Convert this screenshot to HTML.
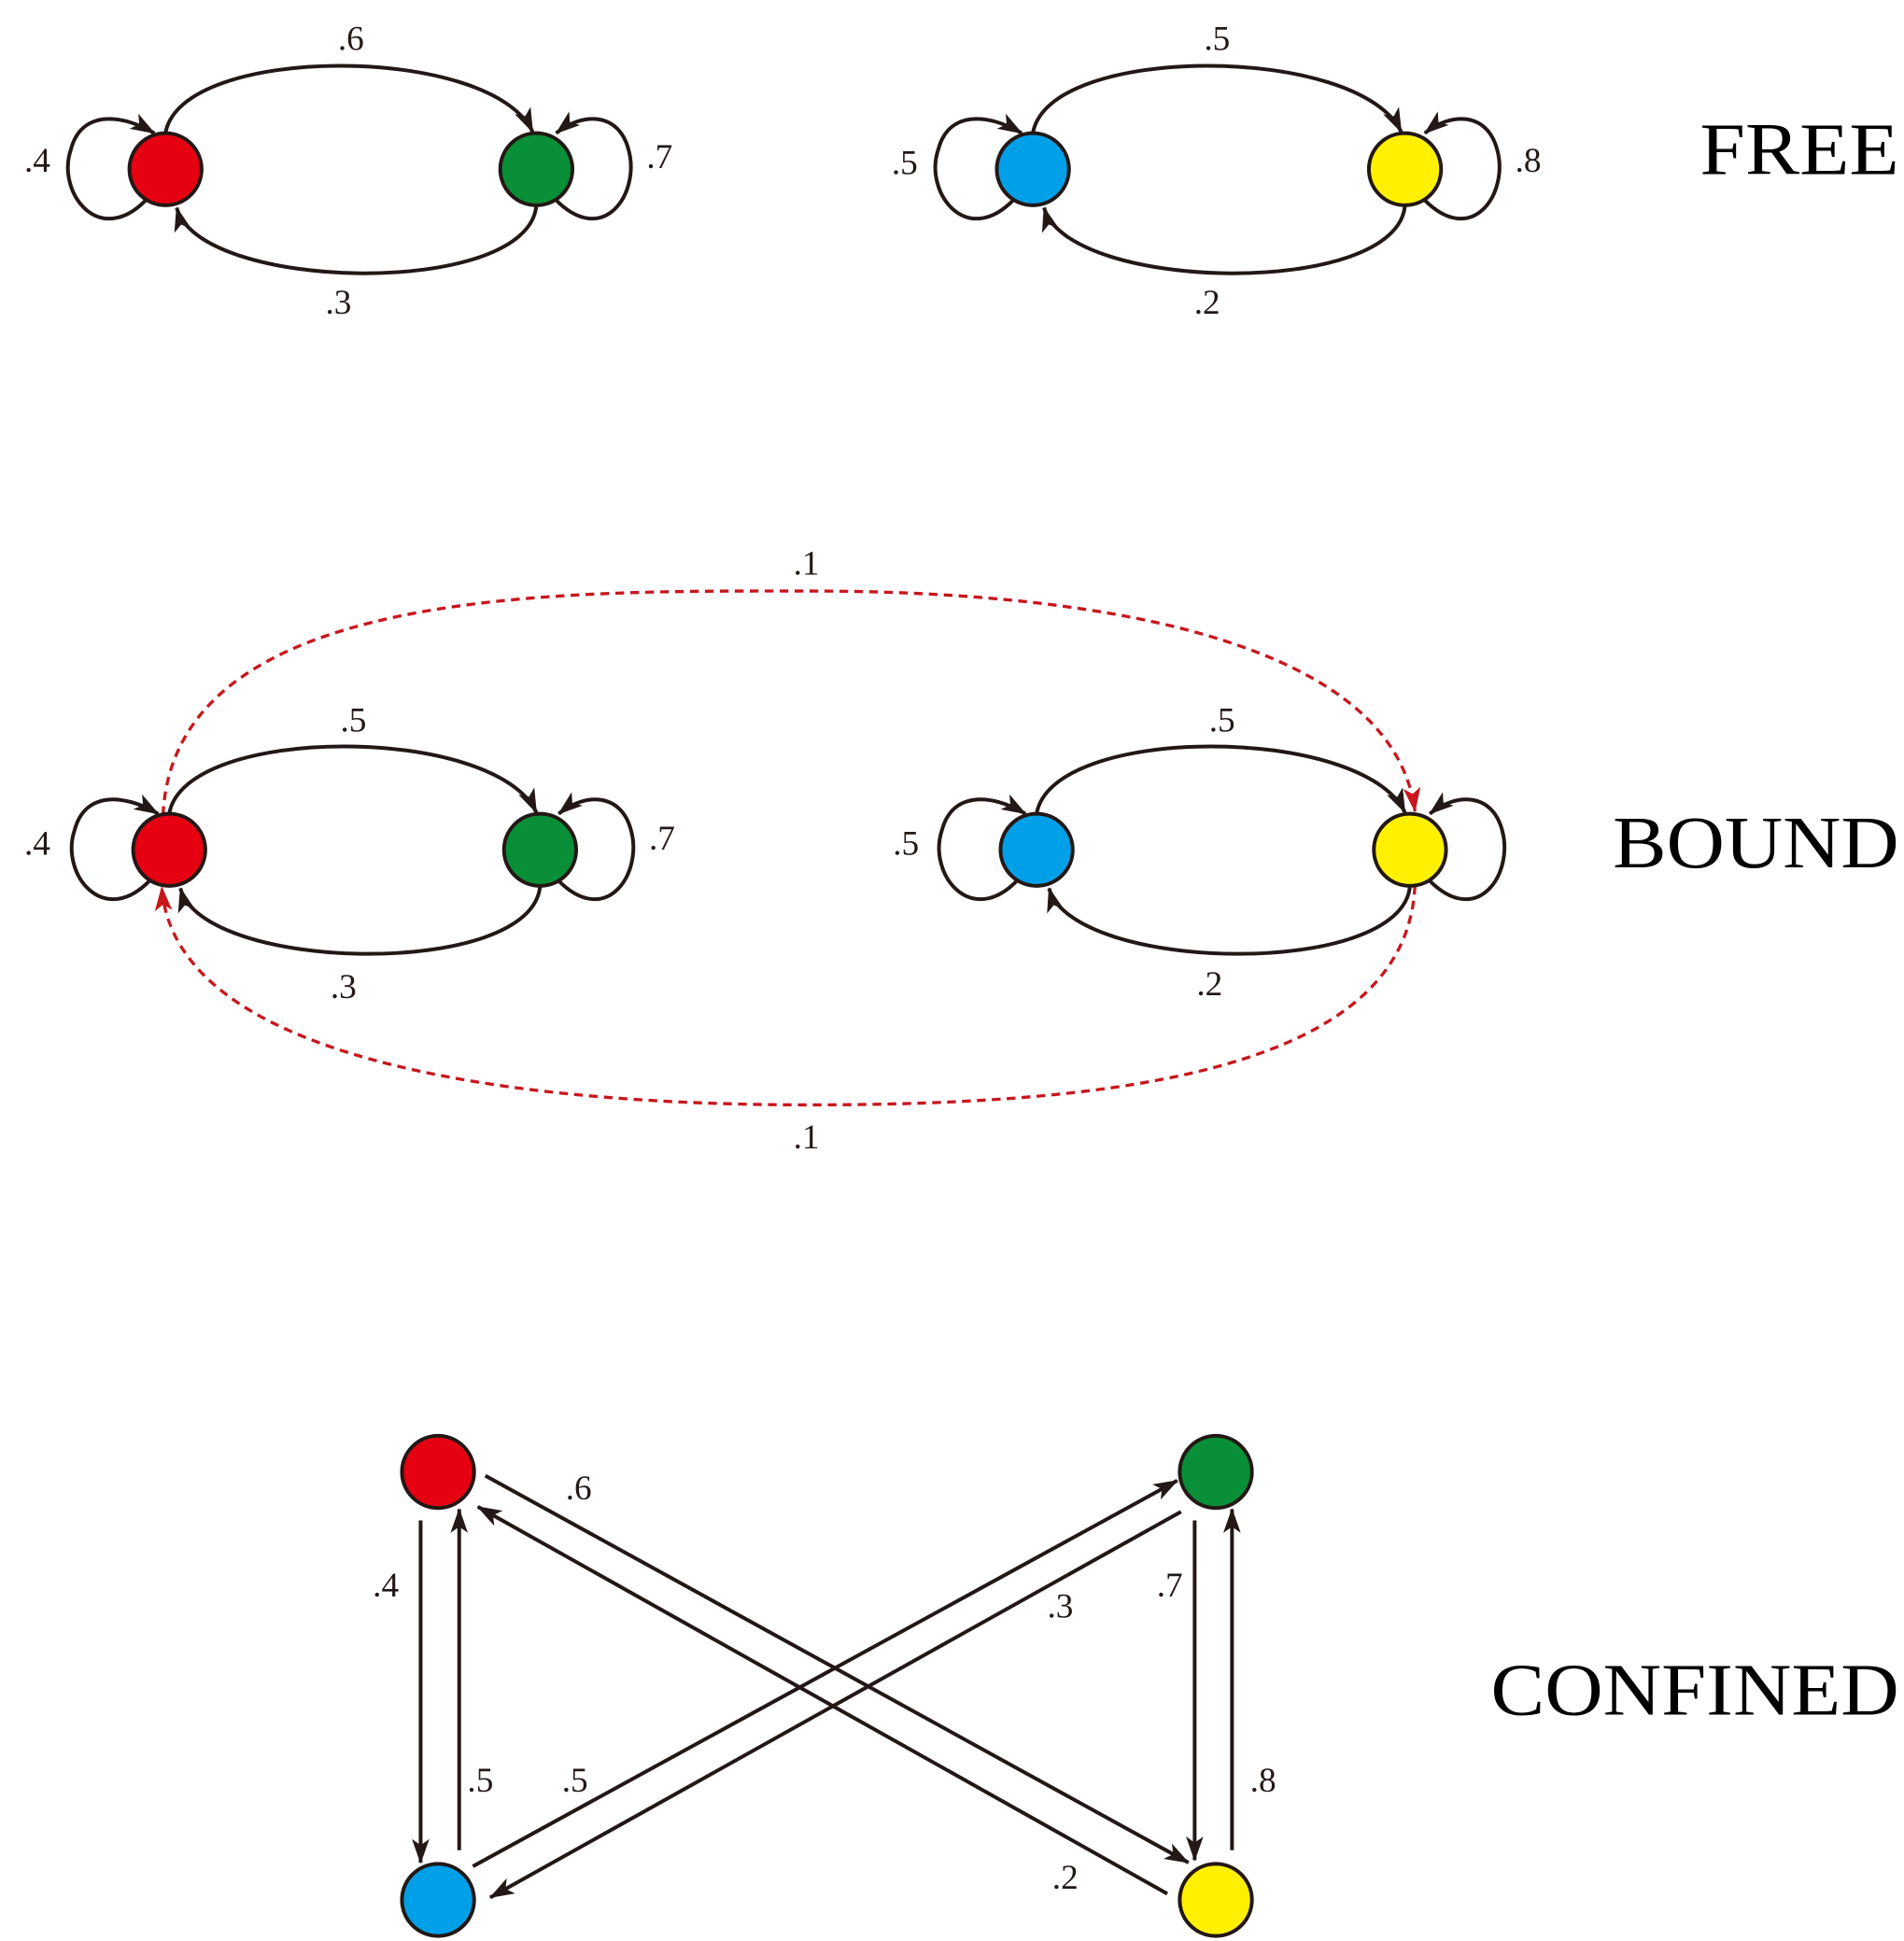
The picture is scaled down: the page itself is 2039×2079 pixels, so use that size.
<!DOCTYPE html>
<html><head><meta charset="utf-8"><style>html,body{margin:0;padding:0;background:#fff}svg{display:block}</style></head><body>
<svg width="2039" height="2079" viewBox="0 0 1530 1560" xmlns="http://www.w3.org/2000/svg" font-family="'Liberation Serif', serif">
<defs>
<marker id="a" viewBox="0 0 20 14" refX="19" refY="7" markerWidth="20" markerHeight="14" markerUnits="userSpaceOnUse" orient="auto">
<path d="M0,0 L20,7 L0,14 L5,7 Z" fill="#231815"/></marker>
<marker id="r" viewBox="0 0 20 14" refX="19" refY="7" markerWidth="20" markerHeight="14" markerUnits="userSpaceOnUse" orient="auto">
<path d="M0,0 L20,7 L0,14 L5,7 Z" fill="#c8161d"/></marker>
</defs>
<g fill="none" stroke="#231815" stroke-width="3" marker-end="url(#a)">
<!-- FREE left -->
<path d="M133,107 C145,35 395,35 428,106"/>
<path d="M431,165 C425,240 160,235 142,167"/>
<path d="M118,160 C80,200 45,155 57,120 C65,90 95,90 124,107"/>
<path d="M446,160 C485,200 515,155 505,120 C497,90 468,90 447,107"/>
<!-- FREE right -->
<path d="M830,107 C842,35 1092,35 1126,106"/>
<path d="M1129,165 C1123,240 858,235 839,167"/>
<path d="M815,160 C777,200 742,155 754,120 C762,90 792,90 821,107"/>
<path d="M1144,160 C1183,200 1213,155 1203,120 C1195,90 1166,90 1145,107"/>
<!-- BOUND left -->
<path d="M136,654 C148,582 398,582 431,653"/>
<path d="M434,712 C428,787 163,782 145,714"/>
<path d="M121,707 C83,747 48,702 60,667 C68,637 98,637 127,654"/>
<path d="M448,707 C487,747 517,702 507,667 C499,637 470,637 449,654"/>
<!-- BOUND right -->
<path d="M833,654 C845,582 1095,582 1129,653"/>
<path d="M1133,712 C1127,787 862,782 843,714"/>
<path d="M818,707 C780,747 745,702 757,667 C765,637 795,637 824,654"/>
<path d="M1148,707 C1187,747 1217,702 1207,667 C1199,637 1170,637 1149,654"/>
<!-- CONFINED -->
<path d="M338,1222 L338,1497"/>
<path d="M369,1487 L369,1213"/>
<path d="M960,1222 L960,1495"/>
<path d="M990,1487 L990,1213"/>
<path d="M390,1186 L955,1497"/>
<path d="M938,1522 L384,1211"/>
<path d="M380,1500 L946,1190"/>
<path d="M949,1215 L394,1525"/>
</g>
<g fill="none" stroke="#c8161d" stroke-width="2.5" stroke-dasharray="7,5" marker-end="url(#r)">
<path d="M131,655 C140,470 450,475 650,475 C900,475 1120,520 1137,652"/>
<path d="M1137,712 C1130,860 900,888 650,888 C400,888 140,850 130,713"/>
</g>
<g stroke="#231815" stroke-width="3">
<circle cx="133" cy="136" r="29" fill="#e50012"/>
<circle cx="431" cy="136" r="29" fill="#098f37"/>
<circle cx="830" cy="136" r="29" fill="#00a0e8"/>
<circle cx="1129" cy="136" r="29" fill="#fff100"/>
<circle cx="136" cy="683" r="29" fill="#e50012"/>
<circle cx="434" cy="683" r="29" fill="#098f37"/>
<circle cx="833" cy="683" r="29" fill="#00a0e8"/>
<circle cx="1133" cy="683" r="29" fill="#fff100"/>
<circle cx="352" cy="1183" r="29" fill="#e50012"/>
<circle cx="977" cy="1183" r="29" fill="#098f37"/>
<circle cx="352" cy="1527" r="29" fill="#00a0e8"/>
<circle cx="977" cy="1527" r="29" fill="#fff100"/>
</g>
<g font-size="28" fill="#231815" text-anchor="middle">
<text x="282" y="40">.6</text><text x="272" y="252">.3</text><text x="30" y="138">.4</text><text x="530" y="135">.7</text>
<text x="978" y="40">.5</text><text x="970" y="252">.2</text><text x="727" y="140">.5</text><text x="1228" y="138">.8</text>
<text x="284" y="588">.5</text><text x="276" y="802">.3</text><text x="30" y="687">.4</text><text x="532" y="683">.7</text>
<text x="982" y="588">.5</text><text x="972" y="800">.2</text><text x="728" y="687">.5</text>
<text x="648" y="462">.1</text><text x="648" y="923">.1</text>
<text x="465" y="1205">.6</text><text x="310" y="1283">.4</text><text x="386" y="1440">.5</text><text x="462" y="1440">.5</text>
<text x="852" y="1300">.3</text><text x="940" y="1283">.7</text><text x="1015" y="1440">.8</text><text x="856" y="1518">.2</text>
</g>
<g font-size="60" fill="#000" text-anchor="end">
<text x="1526" y="140" textLength="160" lengthAdjust="spacingAndGlyphs">FREE</text>
<text x="1526" y="697" textLength="230" lengthAdjust="spacingAndGlyphs">BOUND</text>
<text x="1526" y="1378" textLength="328" lengthAdjust="spacingAndGlyphs">CONFINED</text>
</g>
</svg>
</body></html>
